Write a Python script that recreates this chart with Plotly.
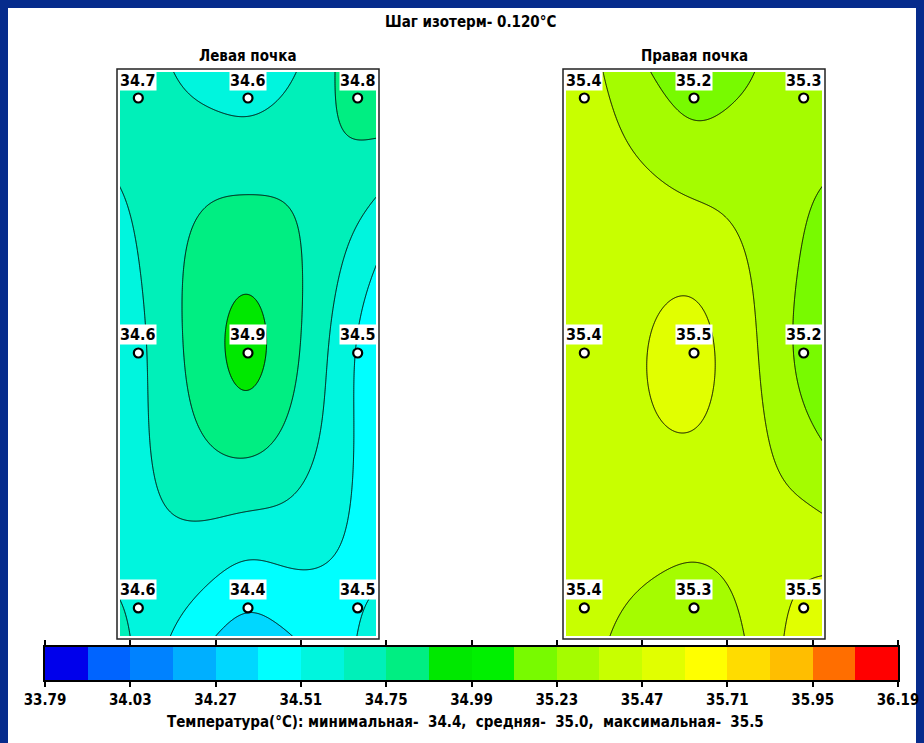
import numpy as np
import plotly.graph_objects as go

W, H = 924, 743

# ---- data: measured temperatures (°C) at a 3x3 grid of points (rows top->bottom) ----
left_row_top = [34.7, 34.6, 34.8]
left_row_mid = [34.6, 34.9, 34.5]
left_row_bot = [34.6, 34.4, 34.5]

right_row_top = [35.4, 35.2, 35.3]
right_row_mid = [35.4, 35.5, 35.2]
right_row_bot = [35.4, 35.3, 35.5]

panel_titles = ["Левая почка", "Правая почка"]
title_text = "Шаг изотерм- 0.120°C"
caption_text = "Температура(°C): минимальная-  34.4,  средняя-  35.0,  максимальная-  35.5"

scale_min = 33.79
scale_max = 36.19
iso_step = 0.12
scale_tick_values = [33.79, 34.03, 34.27, 34.51, 34.75, 34.99, 35.23, 35.47, 35.71, 35.95, 36.19]
scale_tick_labels = ["33.79", "34.03", "34.27", "34.51", "34.75", "34.99",
                     "35.23", "35.47", "35.71", "35.95", "36.19"]

band_colors = [
    "rgb(0,0,235)", "rgb(0,100,255)", "rgb(0,130,255)", "rgb(0,175,255)",
    "rgb(0,215,255)", "rgb(0,255,255)", "rgb(0,245,222)", "rgb(0,240,185)",
    "rgb(0,238,130)", "rgb(0,232,0)", "rgb(0,240,0)", "rgb(120,250,0)",
    "rgb(165,252,0)", "rgb(200,255,0)", "rgb(225,255,0)", "rgb(255,255,0)",
    "rgb(255,220,0)", "rgb(255,190,0)", "rgb(255,110,0)", "rgb(255,0,0)",
]

FONT = "DejaVu Sans Condensed, Liberation Sans Narrow, Arial Narrow, sans-serif"
BLUE = "#062b8c"


def fx(px):
    return px / W


def fy(py):
    return 1 - py / H


def tfont(size):
    return dict(family=FONT, size=size, color="black", weight="bold")


# discrete colour scale: plotly maps [0,1] onto [start - step/2, end + step/2]
nb = len(band_colors)
ncl = nb + 1
cscale = [[0.0, band_colors[0]]]
for k, c in enumerate(band_colors):
    cscale.append([(k + 0.5) / ncl, c])
    cscale.append([(k + 1.5) / ncl, c])
cscale.append([1.0, band_colors[-1]])
cs_lo = scale_min - iso_step / 2
cs_hi = scale_max + iso_step / 2


def surface(rows, uu, vv, w_quad=0.6):
    """Smooth surface through the 3x3 measured grid (biquadratic blended with
    inverse-distance weighting), evaluated for the contour renderer."""
    z = np.array(rows, dtype=float)
    U, V = np.meshgrid(uu, vv)

    def basis(t):
        return [(t - 1) * (t - 2) / 2, -t * (t - 2), t * (t - 1) / 2]

    bu = basis(U)
    bv = basis(V)
    quad = np.zeros_like(U)
    num = np.zeros_like(U)
    den = np.zeros_like(U)
    for i in range(3):
        for j in range(3):
            quad += z[i, j] * bv[i] * bu[j]
            w = 1.0 / ((U - j) ** 2 + (V - i) ** 2 + 1e-9)
            num += w * z[i, j]
            den += w
    return w_quad * quad + (1 - w_quad) * num / den


uu = np.linspace(-0.25, 2.25, 301)
vv = np.linspace(-0.2, 2.2, 301)

panels = [
    dict(rows=[left_row_top, left_row_mid, left_row_bot], fill=(120, 376), frame=(117, 379)),
    dict(rows=[right_row_top, right_row_mid, right_row_bot], fill=(566, 822), frame=(563, 825)),
]
fill_y = (72, 636)
frame_y = (69, 639)

fig = go.Figure()
annotations = []
shapes = [dict(type="rect", xref="paper", yref="paper", x0=fx(8), x1=fx(916), y0=-0.01, y1=fy(8),
               fillcolor="white", line=dict(width=0), layer="below")]

for p, pan in enumerate(panels):
    ax = "" if p == 0 else str(p + 1)
    z = surface(pan["rows"], uu, vv)
    fig.add_trace(go.Contour(
        x=uu, y=vv, z=z, xaxis="x" + ax, yaxis="y" + ax,
        colorscale=cscale, showscale=False, autocontour=False,
        contours=dict(start=scale_min, end=scale_max, size=iso_step, coloring="fill"),
        line=dict(color="black", width=1, smoothing=0),
        hoverinfo="skip",
    ))
    px_, py_ = [], []
    for r, row in enumerate(pan["rows"]):
        for c, v in enumerate(row):
            px_.append(c)
            py_.append(r)
            annotations.append(dict(
                x=c, y=r, xref="x" + ax, yref="y" + ax, text=f"{v:.1f}", showarrow=False,
                xanchor="center", yanchor="middle",
                yshift=18, bgcolor="white", borderpad=0, font=tfont(16)))
    fig.add_trace(go.Scatter(
        x=px_, y=py_, mode="markers", xaxis="x" + ax, yaxis="y" + ax,
        marker=dict(symbol="circle", size=9, color="white", line=dict(color="black", width=2.2)),
        hoverinfo="skip", showlegend=False))
    f0, f1 = pan["fill"]
    fig.update_layout(**{
        "xaxis" + ax: dict(domain=[fx(f0), fx(f1)], range=[-0.167, 2.167], visible=False,
                           fixedrange=True, automargin=False),
        "yaxis" + ax: dict(domain=[fy(fill_y[1]), fy(fill_y[0])], range=[2.11, -0.102], visible=False,
                           fixedrange=True, automargin=False),
    })
    g0, g1 = pan["frame"]
    shapes.append(dict(type="rect", xref="paper", yref="paper", x0=fx(g0), x1=fx(g1),
                       y0=fy(frame_y[1]), y1=fy(frame_y[0]), line=dict(color="#222", width=1.5),
                       layer="above"))
    annotations.append(dict(x=fx((g0 + g1) / 2), y=fy(56), xref="paper", yref="paper",
                            xanchor="center", yanchor="middle",
                            text=panel_titles[p], showarrow=False, font=tfont(15)))

# colour bar
edges = scale_min + iso_step * np.arange(nb + 1)
mids = (edges[:-1] + edges[1:]) / 2
fig.add_trace(go.Heatmap(
    x=edges, y=[0, 1], z=[list(mids)], xaxis="x3", yaxis="y3",
    colorscale=cscale, zmin=cs_lo, zmax=cs_hi, showscale=False, hoverinfo="skip"))
fig.update_layout(
    xaxis3=dict(domain=[fx(45), fx(898)], range=[scale_min, scale_max], anchor="y3",
                tickvals=scale_tick_values, ticktext=scale_tick_labels, ticks="outside",
                ticklen=5, tickwidth=1.5, tickcolor="black", showline=True, linecolor="black",
                linewidth=1.5, mirror="ticks", showgrid=False, zeroline=False,
                tickfont=tfont(15), fixedrange=True, automargin=False),
    yaxis3=dict(domain=[fy(680), fy(647)], range=[0, 1], anchor="x3", showline=True,
                linecolor="black", linewidth=1.5, mirror=True, showticklabels=False, ticks="",
                showgrid=False, zeroline=False, fixedrange=True, automargin=False),
)

annotations.append(dict(x=fx(470), y=fy(22), xref="paper", yref="paper", text=title_text,
                        xanchor="center", yanchor="middle", showarrow=False, font=tfont(15)))
annotations.append(dict(x=fx(466), y=fy(722), xref="paper", yref="paper", text=caption_text,
                        xanchor="center", yanchor="middle", showarrow=False, font=tfont(15)))

fig.update_layout(
    width=W, height=H, margin=dict(l=0, r=0, t=0, b=0, pad=0, autoexpand=False),
    paper_bgcolor=BLUE, plot_bgcolor="white", showlegend=False,
    shapes=shapes, annotations=annotations,
)

fig.write_html(
    "out.html",
    config={"displayModeBar": False},
    post_script="document.body.style.margin='0';document.body.style.background='" + BLUE + "';",
)
